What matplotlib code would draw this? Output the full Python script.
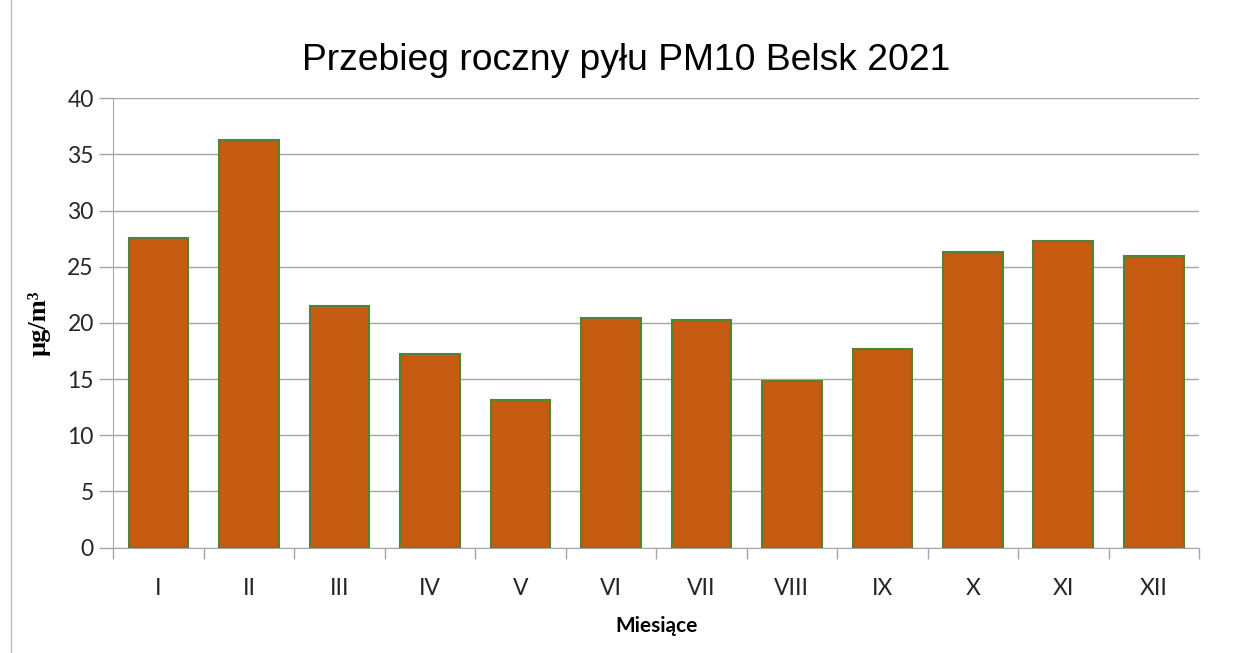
import matplotlib.pyplot as plt
from matplotlib.patches import Rectangle

miesiace = ["I", "II", "III", "IV", "V", "VI", "VII", "VIII", "IX", "X", "XI", "XII"]
pm10 = [27.6, 36.3, 21.5, 17.2, 13.15, 20.4, 20.3, 14.85, 17.65, 26.3, 27.3, 25.95]
y_ticks = [0, 5, 10, 15, 20, 25, 30, 35, 40]


def main():
    fig = plt.figure(figsize=(12.34, 6.53), dpi=100)
    ax = fig.add_axes([0.0918, 0.1613, 0.8799, 0.6882])

    # ramka wykresu (widoczna tylko lewa krawędź)
    fig.patches.append(Rectangle((11 / 1234, -0.05), 1.2, 1.2,
                                 transform=fig.transFigure, fill=False,
                                 edgecolor="#BFBFBF", linewidth=1.0))

    x = list(range(len(miesiace)))
    ax.bar(x, pm10, width=0.66, color="#C55A11", edgecolor="#548235",
           linewidth=1.5, zorder=3)

    ax.set_xlim(-0.5, len(miesiace) - 0.5)
    ax.set_ylim(0, 40)
    ax.set_yticks(y_ticks)
    ax.set_xticks(x)
    ax.set_xticklabels(miesiace)
    ax.set_xticks([i - 0.5 for i in range(len(miesiace) + 1)], minor=True)

    ax.grid(axis="y", color="#A6A6A6", linewidth=1.0, zorder=0)
    for s in ["top", "right"]:
        ax.spines[s].set_visible(False)
    ax.spines["left"].set_color("#A6A6A6")
    ax.spines["bottom"].set_color("#A6A6A6")
    ax.spines["left"].set_zorder(4)

    ax.tick_params(axis="x", which="major", length=0, pad=22)
    ax.tick_params(axis="x", which="minor", length=8, color="#A6A6A6", width=1)
    ax.tick_params(axis="y", length=10, color="#A6A6A6", width=1, pad=4)
    for lab in ax.get_xticklabels() + ax.get_yticklabels():
        lab.set_fontfamily("Lato")
        lab.set_fontsize(16.5)
        lab.set_color("#262626")

    ax.set_title("Przebieg roczny pyłu PM10 Belsk 2021", fontfamily="Liberation Sans",
                 fontsize=26.8, pad=20, x=0.472)
    ax.set_xlabel("Miesiące", fontfamily="Lato", fontweight="bold", fontsize=15,
                  labelpad=12)
    ax.set_ylabel("µg/m³", fontfamily="Liberation Serif", fontweight="bold",
                  fontsize=19, labelpad=12)

    fig.savefig("out.png", dpi=100)


if __name__ == "__main__":
    main()
